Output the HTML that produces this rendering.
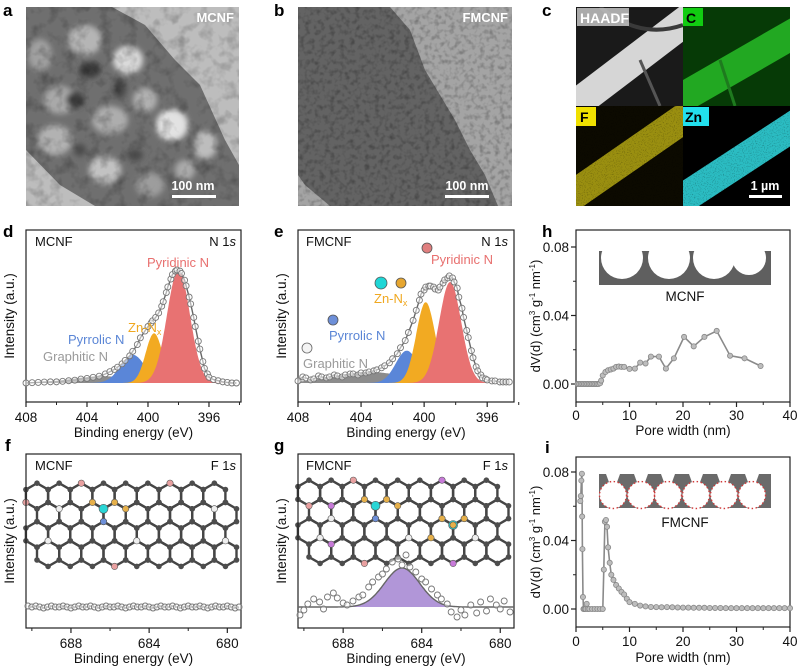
<!DOCTYPE html>
<html><head><meta charset="utf-8">
<style>
html,body{margin:0;padding:0;background:#fff;}
svg{display:block;font-family:"Liberation Sans",Arial,sans-serif;}
</style></head>
<body>
<svg id="fig" width="798" height="667" viewBox="0 0 798 667" xmlns="http://www.w3.org/2000/svg">
<defs>
<filter id="tex" x="0" y="0" width="100%" height="100%">
<feTurbulence type="fractalNoise" baseFrequency="0.08" numOctaves="3" seed="4"/>
<feColorMatrix type="matrix" values="0 0 0 0 0  0 0 0 0 0  0 0 0 0 0  0 0 0 -2.2 1.2"/>
</filter>
<filter id="tex2" x="0" y="0" width="100%" height="100%">
<feTurbulence type="fractalNoise" baseFrequency="0.2" numOctaves="2" seed="7"/>
<feColorMatrix type="matrix" values="0 0 0 0 0  0 0 0 0 0  0 0 0 0 0  0 0 0 -2 1.1"/>
</filter>
<filter id="blur3"><feGaussianBlur stdDeviation="3"/></filter>
<filter id="dots" x="0" y="0" width="100%" height="100%">
<feTurbulence type="fractalNoise" baseFrequency="0.9" numOctaves="1" seed="3"/>
<feColorMatrix type="matrix" values="0 0 0 0 0  0 0 0 0 0  0 0 0 0 0  0 0 0 -3 1.4"/>
</filter>
<clipPath id="clipA"><rect x="26" y="7" width="213" height="199"/></clipPath>
<clipPath id="clipB"><rect x="298" y="7" width="214" height="199"/></clipPath>
<clipPath id="clipC1"><rect x="576" y="7" width="107" height="99"/></clipPath>
<clipPath id="clipC2"><rect x="683" y="7" width="107" height="99"/></clipPath>
<clipPath id="clipC3"><rect x="576" y="106" width="107" height="100"/></clipPath>
<clipPath id="clipC4"><rect x="683" y="106" width="107" height="100"/></clipPath>
</defs>

<!-- Panel a -->
<g clip-path="url(#clipA)">
<rect x="26" y="7" width="213" height="199" fill="#bdbdbd"/>
<polygon points="26,7 112,7 145,25 175,60 200,85 225,140 239,165 239,206 95,206 60,185 26,150" fill="#6f6f6f"/>
<g filter="url(#blur3)">
<ellipse cx="85" cy="40" rx="17" ry="15" fill="#b5b5b5"/>
<ellipse cx="128" cy="60" rx="15" ry="14" fill="#dadada"/>
<ellipse cx="40" cy="55" rx="12" ry="16" fill="#a0a0a0"/>
<ellipse cx="60" cy="100" rx="16" ry="14" fill="#a9a9a9"/>
<ellipse cx="172" cy="125" rx="16" ry="16" fill="#e2e2e2"/>
<ellipse cx="110" cy="120" rx="18" ry="14" fill="#adadad"/>
<ellipse cx="145" cy="100" rx="12" ry="12" fill="#b0b0b0"/>
<ellipse cx="55" cy="140" rx="17" ry="15" fill="#b2b2b2"/>
<ellipse cx="105" cy="170" rx="16" ry="14" fill="#c2c2c2"/>
<ellipse cx="205" cy="145" rx="12" ry="14" fill="#bdbdbd"/>
<ellipse cx="150" cy="185" rx="14" ry="12" fill="#9d9d9d"/>
<ellipse cx="185" cy="170" rx="10" ry="10" fill="#aaaaaa"/>
<ellipse cx="90" cy="70" rx="10" ry="8" fill="#3a3a3a"/>
<ellipse cx="75" cy="100" rx="9" ry="8" fill="#3a3a3a"/>
<ellipse cx="120" cy="88" rx="6" ry="10" fill="#454545"/>
<ellipse cx="135" cy="155" rx="8" ry="6" fill="#4a4a4a"/>
<ellipse cx="80" cy="150" rx="6" ry="6" fill="#4a4a4a"/>
</g>
<rect x="26" y="7" width="213" height="199" filter="url(#tex)" opacity="0.25"/>
</g>
<text x="234" y="22" text-anchor="end" font-size="13" font-weight="bold" fill="#fff">MCNF</text>
<text x="193" y="190" text-anchor="middle" font-size="12.5" font-weight="bold" fill="#fff">100 nm</text>
<rect x="172" y="195" width="44" height="3" fill="#fff"/>

<!-- Panel b -->
<g clip-path="url(#clipB)">
<rect x="298" y="7" width="214" height="199" fill="#a4a4a4"/>
<polygon points="298,7 390,7 410,30 425,70 440,95 455,120 470,150 485,175 498,206 330,206 305,185 298,175" fill="#636363"/>
<rect x="298" y="7" width="214" height="199" filter="url(#tex2)" opacity="0.3"/>
</g>
<text x="508" y="22" text-anchor="end" font-size="13" font-weight="bold" fill="#fff">FMCNF</text>
<text x="467" y="190" text-anchor="middle" font-size="12.5" font-weight="bold" fill="#fff">100 nm</text>
<rect x="445" y="195" width="44" height="3" fill="#fff"/>

<!-- Panel c -->
<g>
<rect x="576" y="7" width="214" height="199" fill="#000"/>
<g clip-path="url(#clipC1)">
<rect x="576" y="7" width="107" height="99" fill="#1a1a1a"/>
<line x1="566" y1="112" x2="700" y2="10" stroke="#d6d6d6" stroke-width="30"/>
<line x1="640" y1="60" x2="660" y2="106" stroke="#555" stroke-width="3"/>
<path d="M600,7 Q640,40 683,25" stroke="#3a3a3a" stroke-width="4" fill="none"/>
</g>
<g clip-path="url(#clipC2)">
<rect x="683" y="7" width="107" height="99" fill="#063a06"/>
<line x1="673" y1="103" x2="800" y2="30" stroke="#22a822" stroke-width="30"/>
<line x1="720" y1="60" x2="735" y2="106" stroke="#1e7a1e" stroke-width="3"/>
</g>
<g clip-path="url(#clipC3)">
<rect x="576" y="106" width="107" height="100" fill="#0c0a00"/>
<line x1="566" y1="200" x2="693" y2="112" stroke="#9a8f10" stroke-width="30"/>
</g>
<g clip-path="url(#clipC4)">
<line x1="673" y1="205" x2="800" y2="122" stroke="#2bbcc2" stroke-width="30"/>
</g>
<rect x="576" y="106" width="214" height="100" filter="url(#dots)" opacity="0.35"/>
<rect x="577" y="8" width="52" height="18" fill="#cfcfcf" opacity="0.8"/>
<text x="580" y="23" font-size="14" font-weight="bold" fill="#fff">HAADF</text>
<rect x="683" y="8" width="20" height="18" fill="#11cc11"/>
<text x="686" y="23" font-size="14" font-weight="bold" fill="#000">C</text>
<rect x="576" y="107" width="20" height="19" fill="#f0e000"/>
<text x="580" y="122" font-size="14" font-weight="bold" fill="#000">F</text>
<rect x="683" y="107" width="26" height="19" fill="#22e0ee"/>
<text x="685" y="122" font-size="14" font-weight="bold" fill="#000">Zn</text>
<text x="765" y="190" text-anchor="middle" font-size="12.5" font-weight="bold" fill="#fff">1 µm</text>
<rect x="749" y="195" width="33" height="3" fill="#fff"/>
</g>

<!-- Panel letters -->
<g font-size="17" font-weight="bold" fill="#000">
<text x="3" y="16">a</text>
<text x="274" y="16">b</text>
<text x="542" y="16">c</text>
<text x="3" y="237">d</text>
<text x="274" y="237">e</text>
<text x="542" y="237">h</text>
<text x="5" y="451">f</text>
<text x="274" y="451">g</text>
<text x="545" y="453">i</text>
</g>
<g id="charts"></g>
</svg>

<script>
// ---------- Data ----------
// Panel d (MCNF N 1s)
const dEnergy = [408,407.6,407.2,406.8,406.4,406,405.6,405.2,404.8,404.4,404,403.6,403.2,402.8,402.5,402.2,402,401.7,401.5,401.2,401,400.7,400.5,400.2,400,399.8,399.7,399.5,399.3,399.1,399,398.8,398.7,398.5,398.4,398.2,398.1,397.9,397.8,397.6,397.5,397.3,397.2,397,396.9,396.7,396.6,396.4,396.3,396.1,396,395.7,395.4,395.1,394.8,394.5,394.2];
const dIntensity = [0,0.3,0.5,0.8,1,1,1.5,2,2.5,3.5,4,5,6,8,10,12,14,17,20,24,28,34,40,46,50,53,55,58,62,68,72,80,85,92,96,99,100,99,97,91,86,76,70,58,50,37,30,19,13,8,5,3,2,1,0.5,0,0];
const dCompNames = ["graphitic","pyrrolic","zn-nx","pyridinic"];
const dCompCenter = [403.0,401.0,399.6,398.0];
const dCompHeight = [6,25,44,100];
const dCompSigma = [2.0,0.8,0.55,0.75];
// Panel e (FMCNF N 1s)
const eEnergy = [408,407.7,407.5,407.2,407,406.7,406.5,406.2,406,405.7,405.5,405.2,405,404.7,404.5,404.2,404,403.7,403.5,403.2,403,402.7,402.5,402.2,402,401.7,401.5,401.2,401,400.7,400.5,400.3,400.2,400,399.9,399.7,399.6,399.4,399.3,399.1,399,398.8,398.7,398.5,398.4,398.2,398.1,397.9,397.8,397.6,397.5,397.3,397.2,397,396.9,396.7,396.6,396.4,396.3,396.1,396,395.7,395.5,395.2,395,394.8,394.6];
const eIntensity = [2,6,5,3,4,7,6,5,6,8,7,6,8,9,9,8,10,10,11,12,13,15,17,20,24,29,35,42,50,62,72,82,88,92,95,96,96,95,93,92,95,99,102,104,106,104,100,94,85,74,65,52,45,32,25,16,12,8,5,4,3,2,2,1,1,1,1];
const eCompNames = ["graphitic","pyrrolic","zn-nx","pyridinic"];
const eCompCenter = [403.5,401.1,399.9,398.35];
const eCompHeight = [11,32,80,100];
const eCompSigma = [2.2,0.7,0.6,0.7];
const compColors = ["#8c8c8c","#5a86d8","#f2aa22","#e87272"];
// Panel f (MCNF F 1s)
const fEnergy = [690.2,690,689.8,689.6,689.4,689.2,689,688.8,688.6,688.4,688.2,688,687.8,687.6,687.4,687.2,687,686.8,686.6,686.4,686.2,686,685.8,685.6,685.4,685.2,685,684.8,684.6,684.4,684.2,684,683.8,683.6,683.4,683.2,683,682.8,682.6,682.4,682.2,682,681.8,681.6,681.4,681.2,681,680.8,680.6,680.4,680.2,680,679.8,679.6,679.4];
const fIntensity = [1,0,1,0,-1,0,1,0,0,1,0,-1,0,1,0,0,1,0,-1,0,1,0,0,1,0,-1,0,1,0,0,1,0,-1,0,1,0,0,1,0,-1,0,1,0,0,1,0,-1,0,1,0,0,1,0,-1,0];
// Panel g (FMCNF F 1s)
const gEnergy = [690.2,690,689.8,689.5,689.2,689,688.8,688.5,688.3,688,687.8,687.5,687.2,687,686.7,686.5,686.2,686,685.8,685.5,685.2,685,684.8,684.6,684.3,684,683.8,683.5,683.2,683,682.7,682.5,682.2,682,681.8,681.5,681.2,681,680.7,680.5,680.2,680,679.8,679.5];
const gIntensity = [-8,-3,3,8,5,-2,10,14,9,4,2,6,10,12,20,25,30,33,38,45,48,42,52,40,35,28,25,18,12,8,3,-5,-10,-3,-8,2,-6,5,-4,8,2,-2,6,-5];
const gCompCenter = [685.0];
const gCompHeight = [39];
const gCompSigma = [0.9];
// Panel h (MCNF pore size)
const hWidth = [0.3,0.6,0.9,1.2,1.5,1.8,2.1,2.4,2.7,3.0,3.3,3.6,3.9,4.2,4.5,4.7,5,5.5,6,6.5,7,7.5,8,8.5,9,10,11,12,13,14,15.5,16.8,18.3,20.2,22,24,26.3,28.8,31.5,34.5];
const hValue = [0,0,0,0,0,0,0,0,0,0,0,0,0,0,0.0005,0.002,0.005,0.007,0.008,0.0085,0.009,0.01,0.0102,0.01,0.01,0.0088,0.009,0.0125,0.012,0.016,0.016,0.009,0.015,0.0275,0.022,0.0275,0.031,0.0165,0.015,0.0105];
// Panel i (FMCNF pore size)
const iWidth = [0.8,0.9,1.0,1.1,1.15,1.2,1.3,1.4,1.6,1.8,2.0,2.2,2.5,3,3.5,4,4.5,5,5.2,5.4,5.6,5.8,6,6.3,6.6,7,7.5,8,8.5,9,9.5,10,11,12,13,14,15,16,17,18,19,20,21,22,23,24,25,26,27,28,29,30,31,32,33,34,35,36,37,38,39,40];
const iValue = [0.063,0.066,0.075,0.079,0.054,0.035,0.007,0,0,0,0.003,0,0,0,0,0,0,0,0.023,0.051,0.052,0.048,0.036,0.027,0.02,0.017,0.014,0.012,0.01,0.0085,0.006,0.004,0.003,0.002,0.0015,0.0012,0.0011,0.001,0.0011,0.001,0.0009,0.0008,0.0008,0.0007,0.0007,0.0007,0.0006,0.0006,0.0006,0.0005,0.0005,0.0005,0.0005,0.0005,0.0005,0.0005,0.0005,0.0005,0.0005,0.0005,0.0005,0.0005];
const xpsTicks = [408,404,400,396];
const xpsMinor = [406,402,398,394];
const fTicks = [688,684,680];
const fMinor = [690,686,682];
const poreTicks = [0,10,20,30,40];
const poreMinor = [5,15,25,35];
const dvTicks = [0.00,0.04,0.08];
const dvMinor = [0.02,0.06];

// ---------- Helpers ----------
const NS = "http://www.w3.org/2000/svg";
const root = document.getElementById("charts");
function mk(tag, name, attrs, parent) {
  const el = document.createElementNS(NS, tag);
  
  
  for (const k in attrs) el.setAttribute(k, attrs[k]);
  (parent || root).appendChild(el);
  return el;
}
function txt(name, x, y, s, attrs, parent) {
  const el = mk("text", name, Object.assign({x:x, y:y, "font-size":13.5, fill:"#111"}, attrs || {}), parent);
  el.textContent = s;
  return el;
}
function gauss(E, c, h, s) { return h * Math.exp(-0.5 * ((E - c) / s) ** 2); }

function frame(name, x0, x1, top, bot) {
  mk("rect", name + "-frame", {x:x0, y:top, width:x1-x0, height:bot-top, fill:"none", stroke:"#222", "stroke-width":1.2});
}
function xAxisTicks(name, sx, ticks, minor, bot, labelY, fmt) {
  ticks.forEach(t => {
    mk("line", name + "-xtick", {x1:sx(t), x2:sx(t), y1:bot, y2:bot+5, stroke:"#222", "stroke-width":1.2});
    txt(name + "-xtick-label", sx(t), labelY, fmt ? fmt(t) : String(t), {"text-anchor":"middle"});
  });
  minor.forEach(t => mk("line", name + "-xminor", {x1:sx(t), x2:sx(t), y1:bot, y2:bot+3, stroke:"#222", "stroke-width":1}));
}

// ---------- XPS panels ----------
function xpsPanel(p) {
  const sx = E => p.x0 + (p.eMax - E) / (p.eMax - p.eMin) * (p.x1 - p.x0);
  const sy = I => p.base - I * p.k;
  frame(p.name, p.x0, p.x1, p.top, p.bot);
  if (p.cc) {
    p.cc.forEach((c, i) => {
      let d = "M" + sx(p.eMax) + "," + sy(0);
      for (let E = p.eMax; E >= p.eMin; E -= 0.05) d += " L" + sx(E).toFixed(1) + "," + sy(gauss(E, c, p.ch[i], p.cs[i])).toFixed(1);
      d += " L" + sx(p.eMin) + "," + sy(0) + " Z";
      mk("path", p.name + "-component-" + (p.cn ? p.cn[i] : "peak"), {d:d, fill:p.colors[i], stroke:"none"});
    });
  }
  let env = "";
  if (p.envFromComp) {
    for (let E = p.eMax; E >= p.eMin; E -= 0.05) {
      let s = 0; p.cc.forEach((c, i) => s += gauss(E, c, p.ch[i], p.cs[i]));
      env += (env ? " L" : "M") + sx(E).toFixed(1) + "," + sy(s).toFixed(1);
    }
  } else {
    p.E.forEach((E, i) => env += (i ? " L" : "M") + sx(E).toFixed(1) + "," + sy(p.I[i]).toFixed(1));
  }
  mk("path", p.name + "-fit-envelope", {d:env, fill:"none", stroke:"#666", "stroke-width":1.4});
  p.E.forEach((E, i) => {
    mk("circle", p.name + "-data-point", {cx:sx(E), cy:sy(p.I[i]), r:3, fill:"#fff", "fill-opacity":0.5, stroke:"#777", "stroke-width":0.9});
  });
  xAxisTicks(p.name, sx, p.ticks, p.minor, p.bot, p.labelY);
  txt(p.name + "-x-axis-title", (p.x0 + p.x1) / 2, p.titleY, "Binding energy (eV)", {"text-anchor":"middle"});
  txt(p.name + "-y-axis-title", 0, 0, "Intensity (a.u.)", {"text-anchor":"middle", transform:"translate(" + p.ylx + "," + ((p.top + p.bot) / 2) + ") rotate(-90)"});
  return sx;
}

xpsPanel({name:"panel-d", x0:26, x1:241, top:230, bot:402, eMax:408, eMin:393.9, base:383, k:1.13,
  E:dEnergy, I:dIntensity, cc:dCompCenter, ch:dCompHeight, cs:dCompSigma, cn:dCompNames, colors:compColors,
  ticks:xpsTicks, minor:xpsMinor, labelY:422, titleY:437, ylx:14});
xpsPanel({name:"panel-e", x0:298, x1:514, top:230, bot:402, eMax:408, eMin:394.3, base:383, k:1.01,
  E:eEnergy, I:eIntensity, cc:eCompCenter, ch:eCompHeight, cs:eCompSigma, cn:eCompNames, colors:compColors,
  ticks:xpsTicks, minor:xpsMinor, labelY:422, titleY:437, ylx:286});

// Lattices: extras are [row, col, vertex, colour, radius]
function lattice(name, x0, y0, cols, rows, r, extras) {
  const g = mk("g", name, {});
  const w = Math.sqrt(3) * r;
  const atoms = [];
  const vert = (row, col, k) => {
    const cx = x0 + col * w + (row % 2 ? w / 2 : 0);
    const cy = y0 + row * 1.5 * r;
    const a = Math.PI / 180 * (60 * k - 90);
    return [cx + r * Math.cos(a), cy + r * Math.sin(a)];
  };
  for (let row = 0; row < rows; row++) {
    for (let col = 0; col < cols; col++) {
      const pts = [];
      for (let k = 0; k < 6; k++) pts.push(vert(row, col, k));
      mk("polygon", name + "-hexagon", {points:pts.map(q => q[0].toFixed(1) + "," + q[1].toFixed(1)).join(" "), fill:"none", stroke:"#454545", "stroke-width":2.4}, g);
      pts.forEach(q => atoms.push(q));
    }
  }
  atoms.forEach(q => mk("circle", name + "-atom", {cx:q[0], cy:q[1], r:2.8, fill:"#4d4d4d"}, g));
  extras.forEach(e => {
    const q = vert(e[0], e[1], e[2]);
    mk("circle", name + "-dopant-atom", {cx:q[0], cy:q[1], r:e[4] || 3.2, fill:e[3], stroke:"#555", "stroke-width":0.6}, g);
  });
}
lattice("panel-f-lattice", 37, 496, 9, 4, 12.8, [
  [0,2,0,"#e8a0a0"],[0,0,4,"#e8a0a0"],[0,6,0,"#e8a0a0"],[3,3,3,"#e8a0a0"],
  [0,3,3,"#2ad6d6",4.5],[0,3,4,"#e6b04a"],[0,3,2,"#e6b04a"],[1,3,4,"#e6b04a"],[1,3,1,"#e6b04a"],
  [2,3,0,"#6d8fd8"],[1,1,5,"#eee"],[3,0,0,"#eee"],[3,4,0,"#eee"],[1,7,1,"#eee"],[3,8,0,"#eee"]]);
lattice("panel-g-lattice", 309, 493, 9, 4, 12.8, [
  [0,2,0,"#e8a0a0"],[1,0,5,"#e8a0a0"],[3,2,3,"#e8a0a0"],
  [0,3,3,"#2ad6d6",4.5],[0,3,4,"#e6b04a"],[0,3,2,"#e6b04a"],[1,3,4,"#e6b04a"],[1,3,1,"#e6b04a"],
  [1,6,3,"#2ad6d6",4.5],[1,6,4,"#e6b04a"],[1,6,2,"#e6b04a"],[2,6,4,"#e6b04a"],[2,6,1,"#e6b04a"],
  [0,1,3,"#c77ad8"],[2,1,3,"#c77ad8"],[0,6,0,"#c77ad8"],[3,6,3,"#c77ad8"],[2,3,0,"#6d8fd8"],
  [1,1,4,"#eee"],[3,0,0,"#eee"],[3,4,0,"#eee"],[3,7,0,"#eee"]]);

xpsPanel({name:"panel-f", x0:26, x1:241, top:454, bot:628, eMax:690.3, eMin:679.3, base:607, k:1,
  E:fEnergy, I:fIntensity, ticks:fTicks, minor:fMinor, labelY:648, titleY:663, ylx:14});
xpsPanel({name:"panel-g", x0:298, x1:514, top:454, bot:628, eMax:690.3, eMin:679.3, base:607, k:1,
  E:gEnergy, I:gIntensity, cc:gCompCenter, ch:gCompHeight, cs:gCompSigma, cn:["f1s"], colors:["#b196d8"], envFromComp:true,
  ticks:fTicks, minor:fMinor, labelY:648, titleY:663, ylx:286});

// XPS labels
txt("panel-d-sample-label", 35, 246, "MCNF", {"font-size":13});
const n1 = txt("panel-d-region-label", 236, 246, "", {"font-size":13, "text-anchor":"end"});
n1.innerHTML = 'N 1<tspan font-style="italic">s</tspan>';
txt("legend-pyridinic-d", 178, 267, "Pyridinic N", {"font-size":13, fill:"#e8706f", "text-anchor":"middle"});
const z1 = txt("legend-zn-nx-d", 128, 332, "", {"font-size":13, fill:"#f0a820"});
z1.innerHTML = 'Zn-N<tspan font-size="9" dy="3">x</tspan>';
txt("legend-pyrrolic-d", 68, 344, "Pyrrolic N", {"font-size":13, fill:"#5b86d6"});
txt("legend-graphitic-d", 43, 361, "Graphitic N", {"font-size":13, fill:"#9a9a9a"});

txt("panel-e-sample-label", 306, 246, "FMCNF", {"font-size":13});
const n2 = txt("panel-e-region-label", 508, 246, "", {"font-size":13, "text-anchor":"end"});
n2.innerHTML = 'N 1<tspan font-style="italic">s</tspan>';
mk("circle", "pyridinic-atom-icon", {cx:427, cy:248, r:5, fill:"#e07f7f", stroke:"#555", "stroke-width":0.8});
txt("legend-pyridinic-e", 462, 264, "Pyridinic N", {"font-size":13, fill:"#e8706f", "text-anchor":"middle"});
mk("circle", "zn-atom-icon", {cx:381, cy:283, r:6, fill:"#1fd6d6", stroke:"#555", "stroke-width":0.8});
mk("circle", "zn-n-atom-icon", {cx:401, cy:283, r:5, fill:"#e6a630", stroke:"#555", "stroke-width":0.8});
const z2 = txt("legend-zn-nx-e", 374, 303, "", {"font-size":13, fill:"#f0a820"});
z2.innerHTML = 'Zn-N<tspan font-size="9" dy="3">x</tspan>';
mk("circle", "pyrrolic-atom-icon", {cx:333, cy:320, r:5, fill:"#6d8fd8", stroke:"#555", "stroke-width":0.8});
txt("legend-pyrrolic-e", 329, 340, "Pyrrolic N", {"font-size":13, fill:"#5b86d6"});
mk("circle", "graphitic-atom-icon", {cx:307, cy:348, r:5, fill:"#f4f4f4", stroke:"#666", "stroke-width":0.8});
txt("legend-graphitic-e", 303, 368, "Graphitic N", {"font-size":13, fill:"#9a9a9a"});

txt("panel-f-sample-label", 35, 470, "MCNF", {"font-size":13});
const n3 = txt("panel-f-region-label", 236, 470, "", {"font-size":13, "text-anchor":"end"});
n3.innerHTML = 'F 1<tspan font-style="italic">s</tspan>';
txt("panel-g-sample-label", 306, 470, "FMCNF", {"font-size":13});
const n4 = txt("panel-g-region-label", 508, 470, "", {"font-size":13, "text-anchor":"end"});
n4.innerHTML = 'F 1<tspan font-style="italic">s</tspan>';

// ---------- Pore size panels ----------
function porePanel(p) {
  const sx = w => 576 + w / 40 * (790 - 576);
  const sy = v => p.zeroY - v * 1712.5;
  frame(p.name, 576, 790, p.top, p.bot);
  xAxisTicks(p.name, sx, poreTicks, poreMinor, p.bot, p.labelY);
  dvTicks.forEach(t => {
    mk("line", p.name + "-ytick", {x1:571, x2:576, y1:sy(t), y2:sy(t), stroke:"#222", "stroke-width":1.2});
    txt(p.name + "-ytick-label", 569, sy(t) + 5, t.toFixed(2), {"text-anchor":"end"});
  });
  dvMinor.forEach(t => mk("line", p.name + "-yminor", {x1:573, x2:576, y1:sy(t), y2:sy(t), stroke:"#222", "stroke-width":1}));
  let d = "";
  p.W.forEach((w, i) => d += (i ? " L" : "M") + sx(w).toFixed(1) + "," + sy(p.V[i]).toFixed(1));
  mk("path", p.name + "-series-line", {d:d, fill:"none", stroke:"#8a8a8a", "stroke-width":1.6});
  p.W.forEach((w, i) => mk("circle", p.name + "-data-point", {cx:sx(w), cy:sy(p.V[i]), r:2.6, fill:"#bdbdbd", stroke:"#888", "stroke-width":0.8}));
  txt(p.name + "-x-axis-title", 683, p.titleY, "Pore width (nm)", {"text-anchor":"middle"});
  const yl = txt(p.name + "-y-axis-title", 0, 0, "", {"text-anchor":"middle", "font-size":13, transform:"translate(540," + ((p.top + p.bot) / 2) + ") rotate(-90)"});
  yl.innerHTML = 'dV(d) (cm<tspan font-size="8" dy="-5">3</tspan><tspan dy="5"> g</tspan><tspan font-size="8" dy="-5">-1</tspan><tspan dy="5"> nm</tspan><tspan font-size="8" dy="-5">-1</tspan><tspan dy="5">)</tspan>';
}
porePanel({name:"panel-h", top:230, bot:402, zeroY:384, W:hWidth, V:hValue, labelY:420, titleY:435});
porePanel({name:"panel-i", top:457, bot:627, zeroY:609, W:iWidth, V:iValue, labelY:646, titleY:662});

// Insets
const ih = mk("g", "mcnf-pore-schematic", {});
const hm = mk("mask", "mcnf-inset-mask", {id:"mh"}, ih);
mk("rect", "mask-bg", {x:590, y:240, width:190, height:60, fill:"#fff"}, hm);
[[622,21],[669,21],[714,21],[749,17]].forEach(c => mk("circle", "mask-pore", {cx:c[0], cy:258, r:c[1], fill:"#000"}, hm));
mk("rect", "mcnf-inset-wall", {x:599, y:251, width:172, height:34, fill:"#5f5f5f", mask:"url(#mh)"}, ih);
txt("mcnf-inset-label", 685, 301, "MCNF", {"text-anchor":"middle", "font-size":13.5}, ih);

const ii = mk("g", "fmcnf-pore-schematic", {});
const im = mk("mask", "fmcnf-inset-mask", {id:"mi"}, ii);
mk("rect", "mask-bg", {x:590, y:465, width:190, height:50, fill:"#fff"}, im);
[613,641,668,696,724,752].forEach(cx => {
  mk("circle", "mask-pore", {cx:cx, cy:495, r:13.5, fill:"#000"}, im);
  mk("polygon", "mask-notch", {points:(cx-7)+",474 "+(cx+7)+",474 "+(cx+3)+",485 "+(cx-3)+",485", fill:"#000"}, im);
});
mk("rect", "fmcnf-inset-wall", {x:599, y:474, width:172, height:34, fill:"#6a6a6a", mask:"url(#mi)"}, ii);
[613,641,668,696,724,752].forEach(cx => mk("circle", "fluorine-pore-lining", {cx:cx, cy:495, r:13.5, fill:"none", stroke:"#d03a3a", "stroke-width":1.4, "stroke-dasharray":"1.5 2.5"}, ii));
txt("fmcnf-inset-label", 685, 527, "FMCNF", {"text-anchor":"middle", "font-size":13.5}, ii);
</script>
</body></html>
